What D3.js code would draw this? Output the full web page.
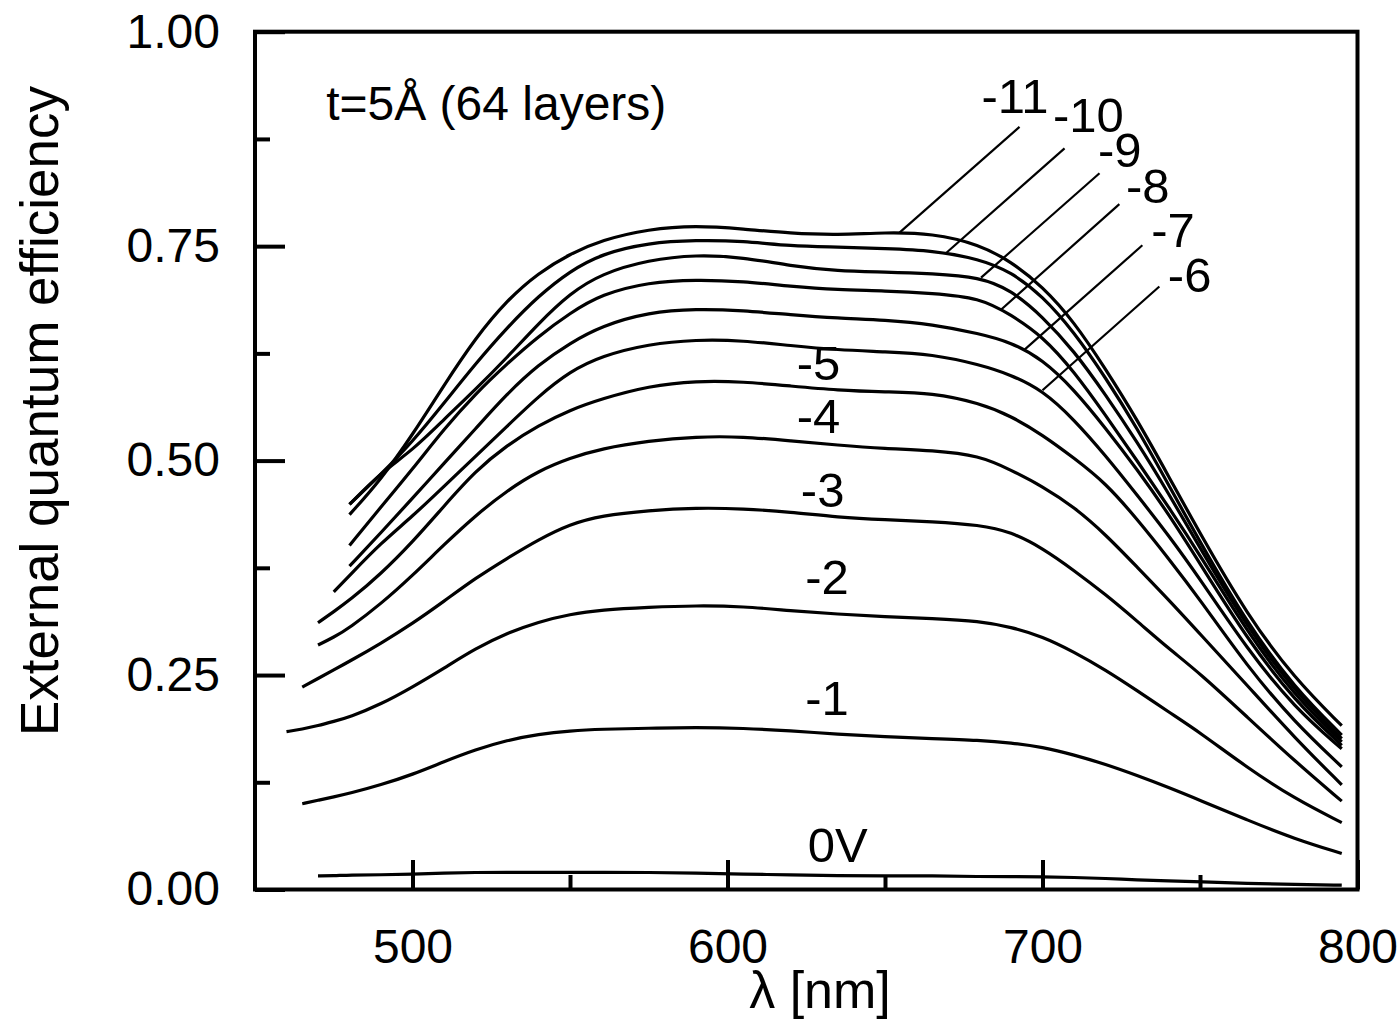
<!DOCTYPE html>
<html>
<head>
<meta charset="utf-8">
<script src="https://cdn.jsdelivr.net/npm/d3@7"></script>
<style>
  body { margin: 0; background: #fff; }
  svg { display: block; }
  text { font-family: "Liberation Sans", Arial, Helvetica, sans-serif; fill: #000; }
</style>
</head>
<body>
<svg id="chart" width="1398" height="1020"></svg>
<script>
// wavelength grid (nm) shared by all bias curves
var wavelengths = [460, 465, 470, 475, 480, 490, 500, 510, 520, 530, 540, 550, 560, 575, 590,
                   605, 620, 635, 650, 665, 680, 690, 700, 710, 720, 730, 740, 750, 765, 780, 795];

// external quantum efficiency for each bias, null before the curve starts
var qe0 = [null, null, .016, .016, .017, .017, .018, .019, .020, .020, .020, .020, .020, .020, .019,
           .018, .017, .016, .016, .016, .015, .015, .015, .014, .013, .011, .010, .009, .007, .006, .005];
var qe1 = [null, .100, .104, .108, .112, .122, .134, .149, .163, .174, .181, .185, .187, .188, .189,
           .188, .185, .181, .178, .176, .174, .171, .166, .157, .146, .133, .119, .104, .081, .059, .042];
var qe2 = [.184, .187, .191, .196, .201, .216, .236, .258, .281, .299, .312, .321, .326, .329, .331,
           .330, .325, .321, .318, .316, .313, .306, .295, .277, .256, .232, .207, .183, .142, .106, .078];
var qe3 = [null, .236, .246, .256, .266, .287, .310, .336, .363, .386, .408, .426, .436, .442, .445,
           .444, .440, .434, .431, .429, .425, .417, .398, .372, .344, .313, .281, .252, .201, .150, .103];
var qe4 = [null, null, .285, .294, .305, .333, .366, .402, .436, .465, .488, .503, .514, .523, .528,
           .528, .523, .518, .514, .512, .506, .489, .470, .446, .414, .376, .338, .298, .238, .177, .122];
var qe5 = [null, null, .311, .324, .337, .368, .405, .447, .488, .518, .541, .559, .572, .587, .593,
           .592, .587, .582, .580, .579, .567, .552, .530, .503, .474, .432, .386, .338, .260, .195, .143];
var qe6 = [null, null, null, .347, .366, .404, .435, .470, .505, .540, .575, .604, .622, .636, .641,
           .640, .634, .629, .627, .624, .612, .600, .582, .548, .506, .460, .413, .362, .280, .212, .164];
var qe7 = [null, null, null, null, .377, .416, .456, .497, .537, .578, .612, .637, .657, .673, .677,
           .675, .670, .666, .664, .659, .648, .638, .618, .583, .538, .490, .438, .380, .292, .220, .168];
var qe8 = [null, null, null, null, .401, .446, .490, .537, .578, .613, .645, .672, .694, .708, .711,
           .709, .703, .699, .698, .695, .690, .670, .645, .604, .553, .500, .446, .390, .300, .226, .172];
var qe9 = [null, null, null, null, .449, .486, .512, .548, .583, .620, .660, .695, .718, .734, .740,
           .737, .727, .721, .720, .718, .714, .699, .668, .628, .577, .522, .462, .398, .306, .231, .176];
var qe10 = [null, null, null, null, .449, .484, .522, .567, .613, .655, .692, .721, .741, .754, .757,
            .756, .750, .749, .747, .745, .735, .720, .692, .650, .597, .538, .472, .405, .310, .235, .180];
var qe11 = [null, null, null, null, .437, .478, .530, .588, .643, .687, .719, .741, .757, .770, .774,
            .770, .765, .763, .766, .765, .752, .732, .703, .662, .607, .548, .482, .415, .320, .246, .191];

var biasLabels = ["0V", "-1", "-2", "-3", "-4", "-5", "-6", "-7", "-8", "-9", "-10", "-11"];
var biasValues = [qe0, qe1, qe2, qe3, qe4, qe5, qe6, qe7, qe8, qe9, qe10, qe11];

// label anchors in data units (middle labels centred, upper labels start-anchored)
var labelLambda = [635.0, 631.6, 631.6, 630.2, 628.9, 628.9, 739.8, 734.5, 726.5, 717.6, 703.3, 680.6];
var labelEqe    = [.032, .2035, .344, .446, .532, .594, .697, .7494, .800, .8419, .8834, .905];
var labelAnchor = ["middle", "middle", "middle", "middle", "middle", "middle",
                   "start", "start", "start", "start", "start", "start"];

// leader lines for -6 .. -11: start point and wavelength where they meet the curve
var leaderIndex  = [6, 7, 8, 9, 10, 11];
var leaderFromL  = [737.1, 731.7, 724.4, 718.1, 707.0, 692.7];
var leaderFromV  = [.703, .751, .799, .835, .864, .889];
var leaderToL    = [700.0, 694.3, 686.9, 680.5, 669.4, 654.6];

var xTicks = [500, 600, 700, 800], xMinor = [550, 650, 750];
var yTicks = [0, 0.25, 0.5, 0.75, 1.0], yMinor = [0.125, 0.375, 0.625, 0.875];

var svg = d3.select("#chart");
var plotLeft = 255, plotRight = 1357.5, plotTop = 31.7, plotBottom = 889.5;

var x = d3.scaleLinear().domain([450, 800]).range([plotLeft, plotRight]);
var y = d3.scaleLinear().domain([0, 1]).range([plotBottom, plotTop]);

// curves
var line = d3.line()
    .defined(function(d) { return d[1] != null; })
    .x(function(d) { return x(d[0]); })
    .y(function(d) { return y(d[1]); })
    .curve(d3.curveBasis);

biasValues.forEach(function(vals) {
    var pts = wavelengths.map(function(w, i) { return [w, vals[i]]; });
    svg.append("path")
        .attr("d", line(pts))
        .attr("fill", "none")
        .attr("stroke", "#000")
        .attr("stroke-width", 3.2);
});

function valueAt(vals, w) {
    var i = d3.bisectLeft(wavelengths, w);
    var w0 = wavelengths[i - 1], w1 = wavelengths[i];
    var t = (w - w0) / (w1 - w0);
    return vals[i - 1] + t * (vals[i] - vals[i - 1]);
}

// leader lines
leaderIndex.forEach(function(k, j) {
    svg.append("line")
        .attr("x1", x(leaderFromL[j])).attr("y1", y(leaderFromV[j]))
        .attr("x2", x(leaderToL[j])).attr("y2", y(valueAt(biasValues[k], leaderToL[j])))
        .attr("stroke", "#000")
        .attr("stroke-width", 2.2);
});

// curve labels
biasLabels.forEach(function(lab, i) {
    svg.append("text")
        .attr("x", x(labelLambda[i]))
        .attr("y", y(labelEqe[i]))
        .attr("text-anchor", labelAnchor[i])
        .attr("font-size", 49)
        .text(lab);
});

// axes
function styleAxis(g) {
    g.select(".domain").remove();
    g.selectAll(".tick line").attr("stroke", "#000").attr("stroke-width", 4);
    g.selectAll(".tick text").attr("font-size", 48)
        .attr("font-family", "'Liberation Sans', Arial, sans-serif").attr("fill", "#000");
}

svg.append("g").attr("transform", "translate(" + plotLeft + ",0)")
    .call(d3.axisLeft(y).tickValues(yTicks).tickFormat(d3.format(".2f"))
        .tickSize(-30).tickPadding(35))
    .call(styleAxis);
svg.append("g").attr("transform", "translate(" + plotLeft + ",0)")
    .call(d3.axisLeft(y).tickValues(yMinor).tickFormat("").tickSize(-15))
    .call(styleAxis);
svg.append("g").attr("transform", "translate(0," + plotBottom + ")")
    .call(d3.axisBottom(x).tickValues(xTicks).tickFormat(d3.format("d"))
        .tickSize(-29.5).tickPadding(39))
    .call(styleAxis);
svg.append("g").attr("transform", "translate(0," + plotBottom + ")")
    .call(d3.axisBottom(x).tickValues(xMinor).tickFormat("").tickSize(-14.5))
    .call(styleAxis);

// frame
svg.append("rect")
    .attr("x", plotLeft).attr("y", plotTop)
    .attr("width", plotRight - plotLeft).attr("height", plotBottom - plotTop)
    .attr("fill", "none").attr("stroke", "#000").attr("stroke-width", 4);

// titles
svg.append("text")
    .attr("transform", "translate(58,411) rotate(-90)")
    .attr("text-anchor", "middle")
    .attr("font-size", 53)
    .text("External quantum efficiency");

svg.append("text")
    .attr("x", 820).attr("y", 1008)
    .attr("text-anchor", "middle")
    .attr("font-size", 52)
    .text("λ [nm]");

svg.append("text")
    .attr("x", x(472.6)).attr("y", y(0.897))
    .attr("font-size", 48)
    .text("t=5Å (64 layers)");
</script>
</body>
</html>
